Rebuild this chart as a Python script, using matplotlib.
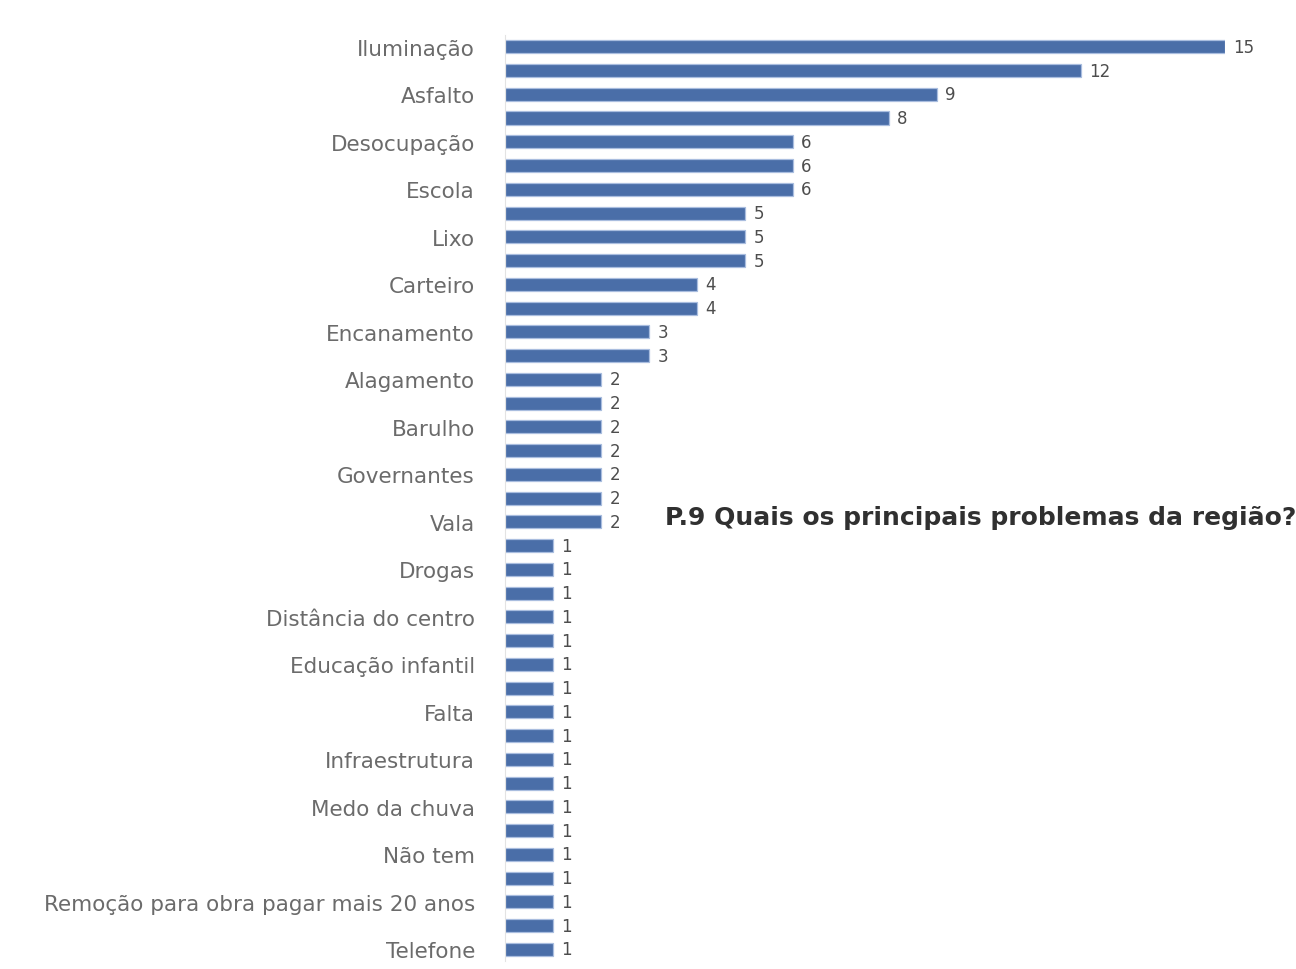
import numpy as np
import matplotlib
matplotlib.use("Agg")
import matplotlib.pyplot as plt

# categories top -> bottom (only every other one gets a tick label, like the original)
categorias = [
    "Iluminação", "Segurança", "Asfalto", "Saúde", "Desocupação", "Enchente",
    "Escola", "Transporte", "Lixo", "Violência", "Carteiro", "Creche",
    "Encanamento", "Esgoto", "Alagamento", "Assalto", "Barulho", "Calçada",
    "Governantes", "Posto de saúde", "Vala", "Desemprego", "Drogas", "Enchentes",
    "Distância do centro", "Ônibus", "Educação infantil", "Emprego", "Falta",
    "Hospital", "Infraestrutura", "Lazer", "Medo da chuva", "Moradia", "Não tem",
    "Praça", "Remoção para obra pagar mais 20 anos", "Rua", "Telefone",
]
valores = [15, 12, 9, 8, 6, 6, 6, 5, 5, 5, 4, 4, 3, 3,
           2, 2, 2, 2, 2, 2, 2,
           1, 1, 1, 1, 1, 1, 1, 1, 1, 1, 1, 1, 1, 1, 1, 1, 1, 1]
titulo = "P.9 Quais os principais problemas da região?"

plt.rcParams['font.family'] = ['DejaVu Sans']

fig = plt.figure(figsize=(12.96, 9.7), dpi=100)
ax = fig.add_axes([0.39, 0.008, 0.555, 0.955])

y = np.arange(len(categorias))
ax.barh(y, valores, height=0.55, color="#4a6ea8", edgecolor="#a9bddf", linewidth=0.9)

for yi, v in zip(y, valores):
    ax.text(v + 0.17, yi, str(v), va="center", ha="left", fontsize=12, color="#4d4d4d")

ax.set_ylim(len(categorias) - 0.5, -0.5)
ax.set_xlim(0, 15)
ax.set_yticks(y[::2])
ax.set_yticklabels(categorias[::2], fontsize=15.5, color="#6b6b6b")
ax.tick_params(axis="y", length=0, pad=22)
ax.set_xticks([])
for s in ["top", "right", "bottom"]:
    ax.spines[s].set_visible(False)
ax.spines["left"].set_color("#e3e3e3")

fig.text(0.513, 0.466, titulo, fontsize=18, fontweight="bold", color="#303030",
         ha="left", va="center")

fig.savefig("out.png", dpi=100)
